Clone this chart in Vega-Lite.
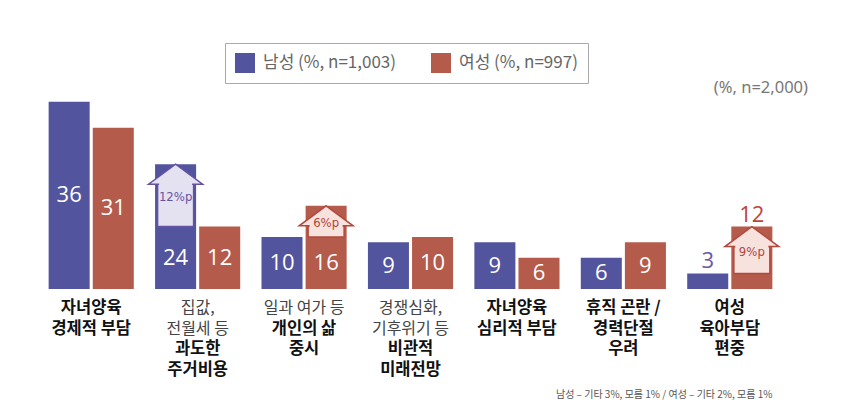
{
  "$schema": "https://vega.github.io/schema/vega-lite/v6.json",
  "width": 745,
  "height": 208,
  "autosize": "none",
  "padding": {"left": 38, "top": 81, "right": 59, "bottom": 129},
  "background": "white",
  "config": {"view": {"stroke": null}, "font": "Noto Sans CJK KR"},
  "title": {
    "text": "(%, n=2,000)",
    "anchor": "end",
    "orient": "top",
    "offset": -54,
    "dx": 25,
    "fontSize": 16.5,
    "fontWeight": "normal",
    "color": "#777",
    "font": "Noto Sans"
  },
  "datasets": {
    "bars": [
      {"cat": "자녀양육 경제적 부담", "gender": "남성", "value": 36},
      {"cat": "자녀양육 경제적 부담", "gender": "여성", "value": 31},
      {"cat": "과도한 주거비용", "gender": "남성", "value": 24, "base": 12, "gap": "12%p"},
      {"cat": "과도한 주거비용", "gender": "여성", "value": 12},
      {"cat": "개인의 삶 중시", "gender": "남성", "value": 10},
      {"cat": "개인의 삶 중시", "gender": "여성", "value": 16, "base": 10, "gap": "6%p"},
      {"cat": "비관적 미래전망", "gender": "남성", "value": 9},
      {"cat": "비관적 미래전망", "gender": "여성", "value": 10},
      {"cat": "자녀양육 심리적 부담", "gender": "남성", "value": 9},
      {"cat": "자녀양육 심리적 부담", "gender": "여성", "value": 6},
      {"cat": "휴직 곤란 / 경력단절 우려", "gender": "남성", "value": 6},
      {"cat": "휴직 곤란 / 경력단절 우려", "gender": "여성", "value": 9},
      {"cat": "여성 육아부담 편중", "gender": "남성", "value": 3},
      {"cat": "여성 육아부담 편중", "gender": "여성", "value": 12, "base": 3, "gap": "9%p"}
    ],
    "labels": [
      {"cat": "자녀양육 경제적 부담", "line": 1, "text": "자녀양육", "bold": true},
      {"cat": "자녀양육 경제적 부담", "line": 2, "text": "경제적 부담", "bold": true},
      {"cat": "과도한 주거비용", "line": 1, "text": "집값,", "bold": false},
      {"cat": "과도한 주거비용", "line": 2, "text": "전월세 등", "bold": false},
      {"cat": "과도한 주거비용", "line": 3, "text": "과도한", "bold": true},
      {"cat": "과도한 주거비용", "line": 4, "text": "주거비용", "bold": true},
      {"cat": "개인의 삶 중시", "line": 1, "text": "일과 여가 등", "bold": false},
      {"cat": "개인의 삶 중시", "line": 2, "text": "개인의 삶", "bold": true},
      {"cat": "개인의 삶 중시", "line": 3, "text": "중시", "bold": true},
      {"cat": "비관적 미래전망", "line": 1, "text": "경쟁심화,", "bold": false},
      {"cat": "비관적 미래전망", "line": 2, "text": "기후위기 등", "bold": false},
      {"cat": "비관적 미래전망", "line": 3, "text": "비관적", "bold": true},
      {"cat": "비관적 미래전망", "line": 4, "text": "미래전망", "bold": true},
      {"cat": "자녀양육 심리적 부담", "line": 1, "text": "자녀양육", "bold": true},
      {"cat": "자녀양육 심리적 부담", "line": 2, "text": "심리적 부담", "bold": true},
      {"cat": "휴직 곤란 / 경력단절 우려", "line": 1, "text": "휴직 곤란 /", "bold": true},
      {"cat": "휴직 곤란 / 경력단절 우려", "line": 2, "text": "경력단절", "bold": true},
      {"cat": "휴직 곤란 / 경력단절 우려", "line": 3, "text": "우려", "bold": true},
      {"cat": "여성 육아부담 편중", "line": 1, "text": "여성", "bold": true},
      {"cat": "여성 육아부담 편중", "line": 2, "text": "육아부담", "bold": true},
      {"cat": "여성 육아부담 편중", "line": 3, "text": "편중", "bold": true}
    ]
  },
  "resolve": {"scale": {"y": "independent"}},
  "layer": [
    {
      "data": {"name": "bars"},
      "encoding": {
        "x": {
          "field": "cat",
          "type": "nominal",
          "scale": {
            "domain": ["자녀양육 경제적 부담", "과도한 주거비용", "개인의 삶 중시", "비관적 미래전망", "자녀양육 심리적 부담", "휴직 곤란 / 경력단절 우려", "여성 육아부담 편중"],
            "paddingInner": 0.2,
            "paddingOuter": 0.1
          },
          "axis": {
            "labels": false,
            "ticks": false,
            "domain": false,
            "grid": false,
            "title": "남성 – 기타 3%, 모름 1% / 여성 – 기타 2%, 모름 1%",
            "titleFontSize": 10,
            "titleFontWeight": "normal",
            "titleColor": "#555",
            "titleX": 734,
            "titleAlign": "right",
            "titlePadding": 100
          }
        },
        "xOffset": {"field": "gender", "type": "nominal", "scale": {"domain": ["남성", "여성"], "paddingInner": 0.07}},
        "y": {"field": "value", "type": "quantitative", "scale": {"domain": [0, 40], "nice": false}, "axis": null}
      },
      "layer": [
        {
          "mark": {"type": "bar"},
          "encoding": {
            "color": {
              "field": "gender",
              "type": "nominal",
              "scale": {"domain": ["남성", "여성"], "range": ["#53549e", "#b45b4b"]},
              "legend": {
                "title": null,
                "orient": "none",
                "legendX": 187,
                "legendY": -38,
                "direction": "horizontal",
                "symbolType": "square",
                "symbolSize": 400,
                "symbolStrokeWidth": 0,
                "labelFontSize": 17,
                "labelColor": "#666",
                "labelFont": "Noto Sans CJK KR",
                "labelOffset": 8,
                "labelExpr": "datum.label == '남성' ? '남성 (%, n=1,003)' : '여성 (%, n=997)'",
                "strokeColor": "#aaa",
                "padding": 10,
                "columnPadding": 34
              }
            }
          }
        },
        {
          "transform": [{"filter": "isValid(datum.base)"}],
          "mark": {"type": "bar", "width": 36, "y2Offset": 20, "strokeWidth": 1.5},
          "encoding": {
            "y": {"field": "base", "type": "quantitative"},
            "y2": {"field": "value"},
            "fill": {"condition": {"test": "datum.gender == '남성'", "value": "#e4e2f0"}, "value": "#f7e2dd"},
            "stroke": {"condition": {"test": "datum.gender == '남성'", "value": "#6652a4"}, "value": "#b3493e"}
          }
        },
        {
          "transform": [{"filter": "isValid(datum.base)"}],
          "mark": {
            "type": "point",
            "shape": "M0,0 L1,0.74 L0.667,0.74 L-0.667,0.74 L-1,0.74 Z",
            "size": 2916,
            "filled": true,
            "opacity": 1,
            "strokeWidth": 1.5
          },
          "encoding": {
            "fill": {"condition": {"test": "datum.gender == '남성'", "value": "#e4e2f0"}, "value": "#f7e2dd"},
            "stroke": {"condition": {"test": "datum.gender == '남성'", "value": "#6652a4"}, "value": "#b3493e"}
          }
        },
        {
          "transform": [{"filter": "isValid(datum.base)"}],
          "mark": {"type": "bar", "width": 33, "y2Offset": 17, "yOffset": -2},
          "encoding": {
            "y": {"field": "base", "type": "quantitative"},
            "y2": {"field": "value"},
            "fill": {"condition": {"test": "datum.gender == '남성'", "value": "#e4e2f0"}, "value": "#f7e2dd"}
          }
        },
        {
          "transform": [
            {"filter": "isValid(datum.base)"},
            {"calculate": "(datum.base + datum.value) / 2", "as": "am"}
          ],
          "mark": {"type": "text", "fontSize": 13, "font": "DejaVu Sans Condensed", "baseline": "middle", "dy": 2},
          "encoding": {
            "y": {"field": "am", "type": "quantitative"},
            "text": {"field": "gap"},
            "color": {"condition": {"test": "datum.gender == '남성'", "value": "#6654a4"}, "value": "#b4453b"}
          }
        },
        {
          "transform": [
            {"calculate": "isValid(datum.base) ? datum.base : datum.value", "as": "lo"},
            {"filter": "datum.lo >= 5"},
            {"calculate": "datum.lo / 2", "as": "mid"}
          ],
          "mark": {"type": "text", "fontSize": 22, "font": "Open Sans", "baseline": "middle", "color": "white"},
          "encoding": {
            "y": {"field": "mid", "type": "quantitative"},
            "text": {"field": "value"}
          }
        },
        {
          "transform": [
            {"calculate": "isValid(datum.base) ? datum.base : datum.value", "as": "lo"},
            {"filter": "datum.lo < 5"}
          ],
          "mark": {"type": "text", "fontSize": 22, "font": "Open Sans", "baseline": "alphabetic", "dy": -5},
          "encoding": {
            "text": {"field": "value"},
            "color": {"condition": {"test": "datum.gender == '남성'", "value": "#6b57aa"}, "value": "#c0443c"}
          }
        }
      ]
    },
    {
      "data": {"name": "labels"},
      "encoding": {
        "x": {
          "field": "cat",
          "type": "nominal",
          "scale": {
            "domain": ["자녀양육 경제적 부담", "과도한 주거비용", "개인의 삶 중시", "비관적 미래전망", "자녀양육 심리적 부담", "휴직 곤란 / 경력단절 우려", "여성 육아부담 편중"]
          },
          "axis": {
            "labels": false,
            "ticks": false,
            "domain": false,
            "grid": false,
            "title": "남성 – 기타 3%, 모름 1% / 여성 – 기타 2%, 모름 1%",
            "titleFontSize": 10,
            "titleFontWeight": "normal",
            "titleColor": "#555",
            "titleX": 734,
            "titleAlign": "right",
            "titlePadding": 100
          }
        },
        "y": {
          "field": "line",
          "type": "ordinal",
          "scale": {"type": "point", "domain": [1, 2, 3, 4], "range": [227, 289], "padding": 0},
          "axis": null
        },
        "text": {"field": "text"}
      },
      "layer": [
        {
          "transform": [{"filter": "!datum.bold"}],
          "mark": {"type": "text", "fontSize": 16, "fontWeight": "normal", "color": "#444", "baseline": "middle"}
        },
        {
          "transform": [{"filter": "datum.bold"}],
          "mark": {"type": "text", "fontSize": 16.5, "fontWeight": "bold", "color": "#111", "baseline": "middle"}
        }
      ]
    }
  ]
}
